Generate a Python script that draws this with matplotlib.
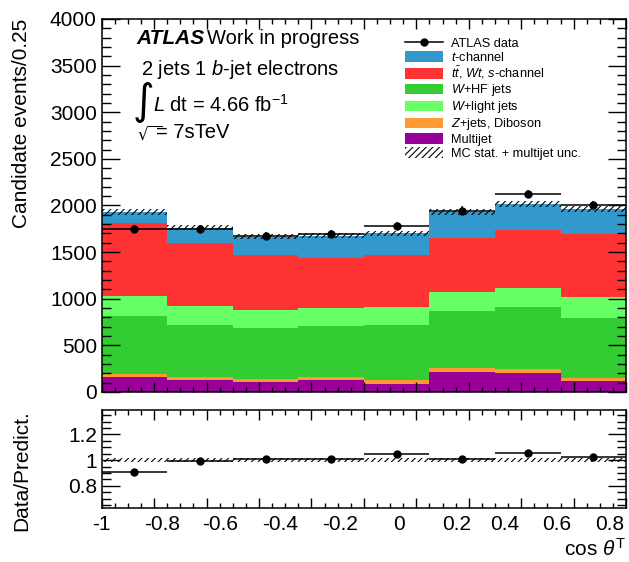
import numpy as np
import matplotlib
matplotlib.use("Agg")
import matplotlib.pyplot as plt
import matplotlib.transforms as mtransforms
from matplotlib.patches import Patch
from matplotlib.lines import Line2D
from matplotlib.ticker import MultipleLocator

plt.rcParams['font.family'] = ['Liberation Sans', 'DejaVu Sans']
plt.rcParams['mathtext.fontset'] = 'custom'
plt.rcParams['mathtext.rm'] = 'Liberation Sans'
plt.rcParams['mathtext.it'] = 'Liberation Sans:italic'
plt.rcParams['mathtext.bf'] = 'Liberation Sans:bold'
plt.rcParams['hatch.linewidth'] = 0.8

# ---- data (cos theta^T, 8 bins of 0.25) ----
bin_edges = [-1.0, -0.75, -0.5, -0.25, 0.0, 0.25, 0.5, 0.75, 1.0]
multijet = [157, 132, 107, 125, 89, 211, 200, 114]
z_diboson = [39, 29, 32, 36, 43, 42, 50, 36]
w_hf = [622, 553, 550, 549, 589, 618, 657, 643]
w_light = [214, 211, 186, 193, 189, 196, 210, 221]
top_bkg = [778, 678, 589, 539, 561, 589, 622, 678]
t_channel = [118, 161, 203, 236, 232, 275, 278, 268]
data = [1746, 1746, 1678, 1692, 1785, 1946, 2124, 2003]
mc_unc = [30, 28, 27, 27, 28, 30, 32, 31]

x_tick_text = ['-1', '-0.8', '-0.6', '-0.4', '-0.2', '0', '0.2', '0.4', '0.6', '0.8']
x_tick_text_pos = [-1.0, -0.771, -0.549, -0.320, -0.091, 0.134, 0.354, 0.539, 0.737, 0.939]

# stack order: bottom to top
stack = [
    (multijet, '#990099', 'Multijet'),
    (z_diboson, '#ff9933', '$Z$+jets, Diboson'),
    (w_hf, '#33cc33', '$W$+HF jets'),
    (w_light, '#66ff66', '$W$+light jets'),
    (top_bkg, '#ff3333', r'$t\bar{t}$, $Wt$, $s$-channel'),
    (t_channel, '#3399cc', '$t$-channel'),
]
legend_order = [5, 4, 2, 3, 1, 0]

edges = np.array(bin_edges)
centers = 0.5 * (edges[:-1] + edges[1:])
widths = np.diff(edges)
data = np.array(data, dtype=float)
unc = np.array(mc_unc, dtype=float)

fig = plt.figure(figsize=(6.29, 5.62), dpi=100)
ax = fig.add_axes([0.1617, 0.3025, 0.8336, 0.6637])
ax_r = fig.add_axes([0.1617, 0.0955, 0.8336, 0.175])

# stacked histogram
bottom = np.zeros(len(centers))
for vals, col, lab in stack:
    vals = np.array(vals, dtype=float)
    ax.bar(centers, vals, width=widths, bottom=bottom, color=col, linewidth=0)
    bottom += vals
total = bottom

# MC uncertainty hatch
ax.bar(centers, 2 * unc, width=widths, bottom=total - unc, facecolor='none',
       edgecolor='black', hatch='/////', linewidth=0)

# data points
ax.errorbar(centers, data, xerr=widths / 2, yerr=np.sqrt(data), fmt='o', color='black',
            markersize=5, elinewidth=1.1, capsize=0)

ax.set_xlim(-1, 1)
ax.set_ylim(0, 4000)
ax.yaxis.set_major_locator(MultipleLocator(500))
ax.yaxis.set_minor_locator(MultipleLocator(100))
ax.set_ylabel('Candidate events/0.25', fontsize=15, loc='top')
ax.yaxis.set_label_coords(-0.135, 1.0)

# ratio panel
ratio = data / total
ratio_err = np.sqrt(data) / total
ax_r.bar(centers, 2 * unc / total, width=widths, bottom=1 - unc / total, facecolor='none',
         edgecolor='black', hatch='/////', linewidth=0)
ax_r.errorbar(centers, ratio, xerr=widths / 2, yerr=ratio_err, fmt='o', color='black',
              markersize=5, elinewidth=1.1, capsize=0)
ax_r.set_xlim(-1, 1)
ax_r.set_ylim(0.625, 1.39)
ax_r.yaxis.set_major_locator(MultipleLocator(0.2))
ax_r.yaxis.set_minor_locator(MultipleLocator(0.05))
ax_r.set_yticks([0.8, 1.0, 1.2], labels=['0.8', '1', '1.2'])
ax_r.set_ylabel('Data/Predict.', fontsize=15, loc='top')
ax_r.yaxis.set_label_coords(-0.135, 1.0)
ax_r.set_xlabel(r'cos $\theta^{\mathrm{T}}$', fontsize=15, loc='right')
ax_r.xaxis.set_label_coords(1.0, -0.30)

for a in (ax, ax_r):
    a.xaxis.set_major_locator(MultipleLocator(0.2))
    a.xaxis.set_minor_locator(MultipleLocator(0.05))
    a.tick_params(which='both', direction='in', top=True, right=True, width=1, labelsize=15)
    a.tick_params(axis='x', which='major', length=7)
    a.tick_params(axis='x', which='minor', length=3.5)
    a.tick_params(axis='y', which='major', length=13)
    a.tick_params(axis='y', which='minor', length=6.5)
    a.tick_params(axis='x', labelbottom=False)
    for s in a.spines.values():
        s.set_linewidth(1.1)

# x tick labels (placed as in the original, shifted from the tick marks)
trans = mtransforms.blended_transform_factory(ax_r.transData, ax_r.transAxes)
for pos, txt in zip(x_tick_text_pos, x_tick_text):
    ax_r.text(pos, -0.07, txt, transform=trans, ha='center', va='top', fontsize=15)

# legend
handles = [Line2D([0], [0], color='black', marker='o', markersize=5, lw=1.1)]
labels = ['ATLAS data']
for i in legend_order:
    vals, col, lab = stack[i]
    handles.append(Patch(facecolor=col, edgecolor='none'))
    labels.append(lab)
handles.append(Patch(facecolor='none', edgecolor='black', hatch='/////', linewidth=0))
labels.append('MC stat. + multijet unc.')
fig.legend(handles, labels, loc='upper left', bbox_to_anchor=(405 / 629, 1 - 37 / 562),
           frameon=False, fontsize=9.2, handlelength=3.0, handleheight=0.9,
           labelspacing=0.08, handletextpad=0.6, borderpad=0, borderaxespad=0)


# annotations
def fx(px):
    return px / 629


def fy(py):
    return 1 - py / 562


fig.text(fx(136), fy(44), 'ATLAS', fontsize=15, va='baseline', fontweight='bold',
         fontstyle='italic')
fig.text(fx(207), fy(44), 'Work in progress', fontsize=14.5, va='baseline')
fig.text(fx(141), fy(75), '2 jets 1 $b$-jet electrons', fontsize=14.5, va='baseline')
fig.text(fx(133), fy(114), '\u222b', fontsize=30, va='baseline', family='DejaVu Sans')
fig.text(fx(153), fy(112), '$L$ dt = 4.66 fb$^{-1}$', fontsize=14.5, va='baseline')
fig.text(fx(137), fy(140), r'$\sqrt{\;\;}$', fontsize=12, va='baseline', math_fontfamily='dejavusans')
fig.text(fx(156), fy(138), '= 7sTeV', fontsize=14.5, va='baseline')

fig.savefig('out.png', dpi=100)
